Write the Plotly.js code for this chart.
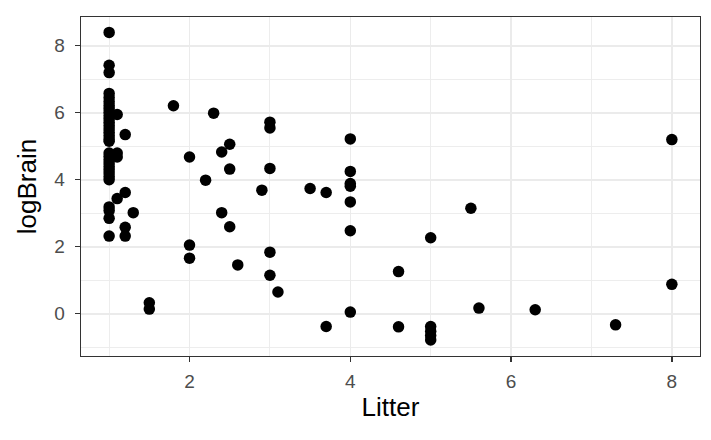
<!DOCTYPE html>
<html>
<head>
<meta charset="utf-8">
<script src="https://cdn.plot.ly/plotly-3.0.1.min.js"></script>
<style>
  html, body { margin: 0; padding: 0; background: #ffffff; }
  #chart { width: 711px; height: 440px; }
</style>
</head>
<body>
<div id="chart"></div>
<script>
// Litter size vs. log brain weight, one point per species
const litter = [
  1, 1, 1, 1, 1, 1, 1, 1, 1, 1, 1, 1, 1, 1, 1, 1, 1, 1,
  1, 1, 1, 1, 1, 1, 1, 1, 1, 1, 1, 1, 1,
  1.1, 1.1, 1.1, 1.1,
  1.2, 1.2, 1.2, 1.2,
  1.3,
  1.5, 1.5,
  1.8,
  2, 2, 2,
  2.2,
  2.3,
  2.4, 2.4,
  2.5, 2.5, 2.5,
  2.6,
  2.9,
  3, 3, 3, 3, 3,
  3.1,
  3.5,
  3.7, 3.7,
  4, 4, 4, 4, 4, 4, 4,
  4.6, 4.6,
  5, 5, 5, 5, 5,
  5.5,
  5.6,
  6.3,
  7.3,
  8, 8
];
const logBrain = [
  8.40, 7.42, 7.20, 6.58, 6.45, 6.33, 6.22, 6.12, 6.02, 5.92, 5.82, 5.72, 5.62, 5.52, 5.42, 5.32, 5.22, 5.15,
  4.80, 4.70, 4.60, 4.50, 4.40, 4.30, 4.20, 4.10, 4.00, 3.19, 3.08, 2.85, 2.32,
  5.95, 4.80, 4.68, 3.44,
  5.35, 3.62, 2.58, 2.32,
  3.02,
  0.33, 0.14,
  6.21,
  4.68, 2.05, 1.66,
  3.99,
  5.99,
  4.83, 3.02,
  5.06, 4.32, 2.60,
  1.46,
  3.69,
  5.72, 5.55, 4.34, 1.84, 1.15,
  0.65,
  3.74,
  3.62, -0.38,
  5.22, 4.25, 3.89, 3.81, 3.34, 2.48, 0.05,
  1.26, -0.39,
  2.27, -0.38, -0.52, -0.65, -0.78,
  3.15,
  0.17,
  0.12,
  -0.33,
  5.20, 0.88
];

const xTicks = [2, 4, 6, 8];
const xMinor = [1, 3, 5, 7];
const yTicks = [0, 2, 4, 6, 8];
const yMinor = [-1, 1, 3, 5, 7];

const gridMajor = '#EBEBEB';
const frame = '#333333';
const tickText = '#4D4D4D';
const fontFamily = '"Liberation Sans", Arial, Helvetica, sans-serif';

const trace = {
  type: 'scatter',
  mode: 'markers',
  x: litter,
  y: logBrain,
  marker: { color: '#000000', size: 11.5, line: { width: 0 } },
  hoverinfo: 'x+y'
};

function axisBase(ticks, minor, range, title) {
  return {
    range: range,
    tickmode: 'array',
    tickvals: ticks,
    ticktext: ticks.map(String),
    ticks: 'outside',
    ticklen: 5,
    tickwidth: 1.3,
    tickcolor: frame,
    tickfont: { family: fontFamily, size: 19, color: tickText },
    showgrid: true,
    gridcolor: gridMajor,
    gridwidth: 1.6,
    minor: { tickmode: 'array', tickvals: minor, showgrid: true, gridcolor: gridMajor, gridwidth: 0.9, ticks: '' },
    zeroline: false,
    showline: true,
    mirror: true,
    linecolor: frame,
    linewidth: 1.3,
    title: { text: title, font: { family: fontFamily, size: 26, color: '#000000' } }
  };
}

const xaxis = axisBase(xTicks, xMinor, [0.65, 8.35], 'Litter');
xaxis.ticklabelstandoff = 3;
xaxis.title.standoff = 6;
const yaxis = axisBase(yTicks, yMinor, [-1.26, 8.86], 'logBrain');
yaxis.ticklabelstandoff = 6;
yaxis.title.standoff = 10;

const layout = {
  width: 711,
  height: 440,
  margin: { l: 81, r: 11, t: 17, b: 84 },
  paper_bgcolor: '#ffffff',
  plot_bgcolor: '#ffffff',
  showlegend: false,
  xaxis: xaxis,
  yaxis: yaxis,
  font: { family: fontFamily }
};

Plotly.newPlot('chart', [trace], layout, { displayModeBar: false, staticPlot: true });
</script>
</body>
</html>
